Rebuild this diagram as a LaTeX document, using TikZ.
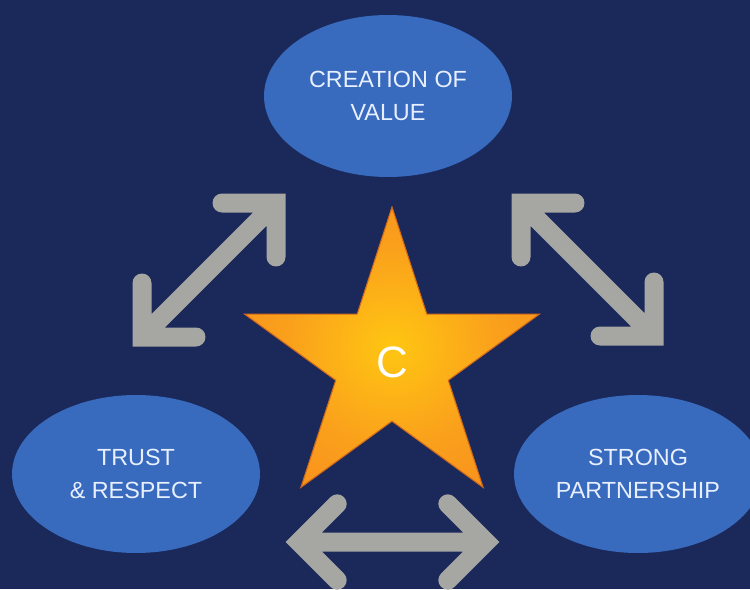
\documentclass[tikz,border=0pt]{standalone}
\usepackage{fontspec}
\setmainfont{Liberation Sans}
\usetikzlibrary{shapes.geometric,calc}

\definecolor{navy}{RGB}{27,41,90}
\definecolor{ovalblue}{RGB}{56,106,190}
\definecolor{arrowgray}{RGB}{166,166,163}
\definecolor{labelwhite}{RGB}{232,240,255}
\definecolor{staryellow}{RGB}{255,198,18}
\definecolor{starmid}{RGB}{250,160,28}
\definecolor{starorange}{RGB}{244,122,32}

\pgfdeclareradialshading{starglow}{\pgfpoint{0bp}{0bp}}{color(0bp)=(staryellow); color(18bp)=(starmid); color(50bp)=(starorange)}

\tikzset{
	oval/.style={ellipse, fill=ovalblue, minimum width=4.96cm, minimum height=3.16cm, inner sep=0pt, text=labelwhite, align=center, font=\fontsize{13.3}{18.7}\selectfont},
	twoway/.style={arrowgray, line width=0.38cm, line cap=round, line join=miter}
}

\begin{document}
\begin{tikzpicture}[x=0.02cm,y=-0.02cm]

	\fill[navy] (0,0) rectangle (750,589);
	\useasboundingbox (0,0) rectangle (750,589);
	\clip (0,0) rectangle (750,589);

	\node[oval,minimum height=3.24cm] at (388,96) (value) {CREATION OF\\VALUE};
	\node[oval] at (136,474) (trust) {TRUST\\\& RESPECT};
	\node[oval] at (638,474) (partner) {STRONG\\PARTNERSHIP};

	\node[star, star points=5, star point ratio=2.618, minimum size=6.2cm, inner sep=0pt, shade, shading=starglow, draw=starorange!85!black, line width=0.6pt, text=white, font=\fontsize{25}{25}\selectfont] at (392,362) (core) {C};

	% two-way arrows
	\coordinate (tv1) at (142,337);
	\coordinate (tv2) at (276,203);
	\coordinate (vp1) at (521,203);
	\coordinate (vp2) at (654,336);
	\coordinate (tp1) at (299,542);
	\coordinate (tp2) at (486,542);

	\draw[twoway] ($(tv1)!1.08cm!45:(tv2)$) -- (tv1) -- ($(tv1)!1.08cm!-45:(tv2)$) (tv1) -- (tv2) ($(tv2)!1.08cm!45:(tv1)$) -- (tv2) -- ($(tv2)!1.08cm!-45:(tv1)$);
	\draw[twoway] ($(vp1)!1.08cm!45:(vp2)$) -- (vp1) -- ($(vp1)!1.08cm!-45:(vp2)$) (vp1) -- (vp2) ($(vp2)!1.08cm!45:(vp1)$) -- (vp2) -- ($(vp2)!1.08cm!-45:(vp1)$);
	\draw[twoway] ($(tp1)!1.08cm!45:(tp2)$) -- (tp1) -- ($(tp1)!1.08cm!-45:(tp2)$) (tp1) -- (tp2) ($(tp2)!1.08cm!45:(tp1)$) -- (tp2) -- ($(tp2)!1.08cm!-45:(tp1)$);

\end{tikzpicture}
\end{document}
